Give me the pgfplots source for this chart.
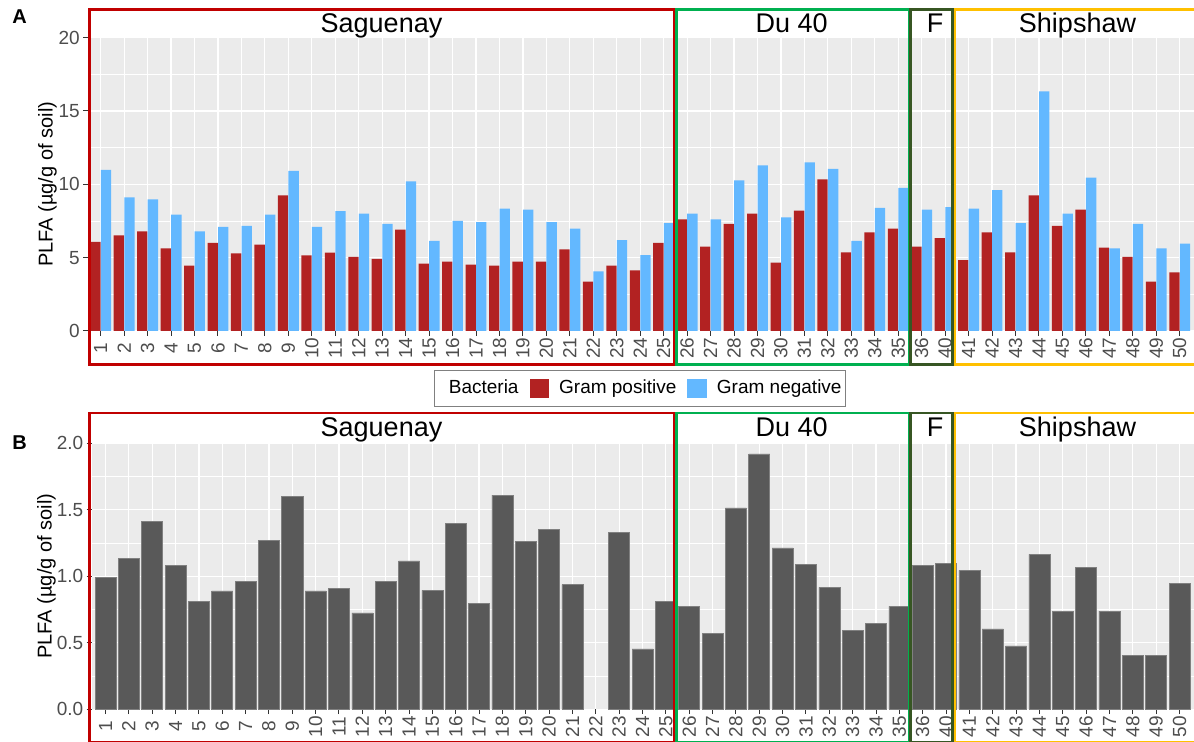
\documentclass[border=0pt]{standalone}
\usepackage{pgfplots}
\usepackage{pgfplotstable}
\pgfplotsset{compat=1.18}
\usepackage{fontspec}
\setmainfont{Liberation Sans}

\definecolor{panelgray}{HTML}{EBEBEB}
\definecolor{gpos}{HTML}{B22222}
\definecolor{gneg}{HTML}{63B8FF}
\definecolor{barg}{HTML}{595959}
\definecolor{ticktext}{HTML}{4D4D4D}
\definecolor{tickc}{HTML}{333333}
\definecolor{fred}{HTML}{C00000}
\definecolor{fgreen}{HTML}{00B050}
\definecolor{fdark}{HTML}{375623}
\definecolor{fyellow}{HTML}{FFC000}

% i = position on the axis, lab = sample, gpos/gneg = panel A, tot = panel B
\pgfplotstableread{
i lab gpos gneg tot
1 1 6.07 10.98 0.99
2 2 6.52 9.11 1.135
3 3 6.80 8.98 1.41
4 4 5.64 7.93 1.08
5 5 4.45 6.80 0.81
6 6 6.00 7.09 0.89
7 7 5.30 7.16 0.96
8 8 5.89 7.93 1.27
9 9 9.25 10.91 1.60
10 10 5.16 7.09 0.89
11 11 5.34 8.18 0.91
12 12 5.05 8.00 0.724
13 13 4.91 7.30 0.96
14 14 6.91 10.20 1.115
15 15 4.59 6.14 0.895
16 16 4.73 7.50 1.40
17 17 4.52 7.43 0.795
18 18 4.45 8.34 1.61
19 19 4.73 8.27 1.26
20 20 4.73 7.43 1.35
21 21 5.57 6.98 0.937
22 22 3.36 4.07 nan
23 23 4.45 6.20 1.33
24 24 4.14 5.18 0.454
25 25 6.00 7.36 0.81
26 26 7.61 8.00 0.774
27 27 5.75 7.61 0.569
28 28 7.30 10.27 1.514
29 29 8.00 11.30 1.92
30 30 4.66 7.75 1.213
31 31 8.20 11.50 1.088
32 32 10.34 11.05 0.917
33 33 5.36 6.14 0.596
34 34 6.73 8.39 0.644
35 35 6.98 9.75 0.774
36 36 5.75 8.27 1.08
37 40 6.34 8.45 1.095
38 41 4.84 8.34 1.045
39 42 6.73 9.61 0.604
40 43 5.36 7.36 0.476
41 44 9.25 16.34 1.165
42 45 7.16 8.00 0.739
43 46 8.27 10.45 1.065
44 47 5.68 5.64 0.739
45 48 5.05 7.30 0.403
46 49 3.36 5.64 0.403
47 50 4.00 5.95 0.945
}\data

\pgfplotsset{
  gg/.style={
    scale only axis, anchor=south west,
    axis background/.style={fill=panelgray},
    axis line style={draw=none},
    xmajorgrids, ymajorgrids, yminorgrids,
    minor y tick num=1,
    major grid style={white, line width=0.6pt},
    minor grid style={white, line width=0.3pt},
    tick align=outside,
    major tick length=2.4pt, minor tick length=0pt,
    tick style={color=tickc, line width=0.5pt},
    xtick pos=bottom, ytick pos=left,
    xtick={1,...,47},
    xticklabels from table={\data}{lab},
    ticklabel style={font=\fontsize{9.5}{11}\selectfont, text=ticktext},
    xticklabel style={rotate=90, anchor=east, text width=12pt, align=center, inner sep=0pt},
    yticklabel style={anchor=east, inner sep=0pt, xshift=-1.5pt},
    /pgf/number format/assume math mode=true,
    label style={font=\fontsize{9.5}{11}\selectfont},
    ymin=0,
  },
  sqleg/.style={legend image code/.code={\fill[##1] (0pt,-4.8pt) rectangle (9.6pt,4.8pt);}},
}

\begin{document}
\begin{tikzpicture}
\useasboundingbox (0,0) rectangle (597pt,371pt);

% panel A
\begin{axis}[gg, at={(44pt,205.5pt)}, width=553pt, height=146.67pt,
  xmin=0.4587, xmax=47.61, ymax=20, ytick={0,5,10,15,20},
  ylabel={PLFA (µg/g of soil)},
  every axis y label/.style={at={(rel axis cs:-0.0366,0.5)}, rotate=90, anchor=center},
  legend columns=3,
  legend style={at={(0.4991,-0.196)}, anchor=center, draw=gray, line width=0.5pt,
    font=\fontsize{9.5}{11}\selectfont, inner xsep=2pt, inner ysep=4.3pt,
    nodes={inner sep=0pt},
    /tikz/every odd column/.append style={column sep=5.2pt},
    /tikz/every even column/.append style={column sep=5.5pt},
    /tikz/column 1/.style={column sep=0pt}},
]
\addlegendimage{empty legend}
\addlegendentry{Bacteria}
\addplot[ybar, bar width=0.44, bar shift=-0.225, fill=gpos, draw=none, sqleg]
  table[x=i, y=gpos] {\data};
\addlegendentry{Gram positive}
\addplot[ybar, bar width=0.44, bar shift=0.225, fill=gneg, draw=none, sqleg]
  table[x=i, y=gneg] {\data};
\addlegendentry{Gram negative}
\end{axis}

% panel B
\begin{axis}[gg, at={(45.75pt,16.35pt)}, width=551.25pt, height=133pt,
  xmin=0.4, xmax=47.62, ymax=2, ytick={0,0.5,1,1.5,2},
  yticklabel style={/pgf/number format/.cd, fixed, fixed zerofill, precision=1},
  ylabel={PLFA (µg/g of soil)},
  every axis y label/.style={at={(rel axis cs:-0.0408,0.5)}, rotate=90, anchor=center},
]
\addplot[ybar, bar width=0.9, bar shift=0, fill=barg, draw=gray, line width=0.3pt]
  table[x=i, y=tot] {\data};
\end{axis}

% facet frames (strip + panel + labels)
\begin{scope}[line width=1.35pt]
  \foreach \yt/\yb in {366.15/188.65, 164.5/-0.25} {
    \draw[fred] (44.85pt,\yt pt) rectangle (337.4pt,\yb pt);
    \draw[fgreen] (338.1pt,\yt pt) rectangle (454.5pt,\yb pt);
    \draw[fyellow] (477.5pt,\yt pt) rectangle (598.5pt,\yb pt);
    \draw[fdark] (455.25pt,\yt pt) rectangle (476.25pt,\yb pt);
  }
\end{scope}

% strip titles
\foreach \yb in {354.5, 152.65} {
  \node[anchor=base, font=\fontsize{13.5}{15}\selectfont, inner sep=0pt] at (190.75pt,\yb pt) {Saguenay};
  \node[anchor=base, font=\fontsize{13.5}{15}\selectfont, inner sep=0pt] at (395.85pt,\yb pt) {Du 40};
  \node[anchor=base, font=\fontsize{13.5}{15}\selectfont, inner sep=0pt] at (467.5pt,\yb pt) {F};
  \node[anchor=base, font=\fontsize{13.5}{15}\selectfont, inner sep=0pt] at (538.75pt,\yb pt) {Shipshaw};
}

\node[font=\fontsize{10}{12}\selectfont\bfseries] at (9.75pt,362.85pt) {A};
\node[font=\fontsize{10}{12}\selectfont\bfseries] at (9.75pt,149.75pt) {B};
\end{tikzpicture}
\end{document}
